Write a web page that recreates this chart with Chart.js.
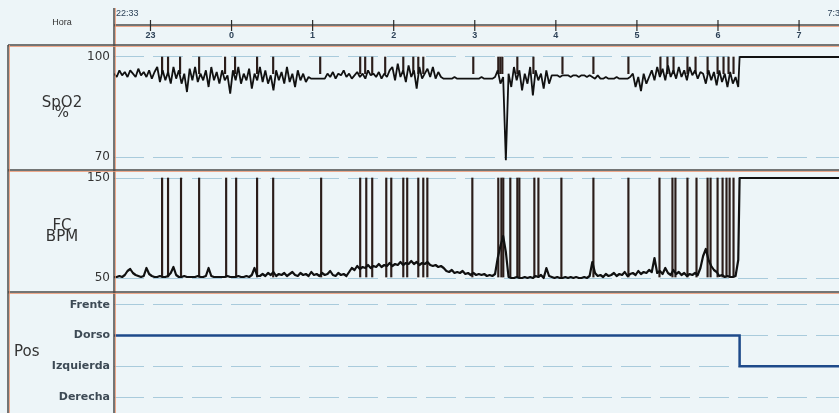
<!DOCTYPE html>
<html>
<head>
<meta charset="utf-8">
<script src="https://cdn.jsdelivr.net/npm/chart.js@4.4.1/dist/chart.umd.min.js"></script>
<style>
html, body { margin: 0; padding: 0; background: #edf5f8; overflow: hidden; }
#wrap { width: 846px; height: 413px; }
</style>
</head>
<body>
<div id="wrap"><canvas id="chart" width="846" height="413"></canvas></div>
<script>
// time axis, in minutes after 22:33
const startLabel = '22:33';
const endLabel = '7:34';
const endMinute = 541;
const hourTicks = [27, 87, 147, 207, 267, 327, 387, 447, 507];
const hourLabels = ['23', '0', '1', '2', '3', '4', '5', '6', '7'];

// one sample every 2 minutes, from 22:33 until the sensor comes off
const sampleStep = 2;
const spo2Values = [
    95, 94, 96, 94.5, 95.5, 94, 96, 95, 94, 96.5, 94.5, 95.5, 94, 96, 93.5, 95.5,
    97, 92.5, 96, 93, 95.5, 92, 97, 93.5, 96, 92, 95, 89.5, 96.5, 93, 97, 92.5, 95, 93, 96, 91,
    97, 93, 95.5, 92, 96, 93, 94.5, 89, 96, 93, 97, 92, 95, 93, 96.5, 90.5, 95, 93, 97, 92.5,
    96, 92, 94.5, 90, 96, 93, 95.5, 92, 97, 92.5, 95, 91, 96, 93, 95, 92.5, 94,
    93.5, 93.5, 93.5, 93.5, 93.5, 93.5,
    95, 94, 95.5, 93.5, 95, 94.5, 96, 94, 95, 93.5, 94.5, 95.5, 94, 95, 93.5, 96, 94.5, 95, 94, 95.5, 93.5, 95, 94, 96,
    97, 93, 98, 94, 96, 92.5, 97.5, 94, 96, 90.5, 97, 93.5, 95, 96.5, 94, 97, 93.5, 95.5, 94, 93.5,
    93.5, 93.5, 93.5, 94, 93.5, 93.5, 93.5, 93.5, 93.5, 93.5, 93.5, 93.5, 93.5, 94, 93.5, 93.5, 93.5, 93.5, 94,
    96, 92, 94, 69,
    95, 91, 97, 93, 96, 90, 95, 92, 97, 88.5, 96, 93, 95, 90.5, 96, 92, 94.5,
    94.5, 94.5, 94, 94.5, 94.5, 94.5, 94, 94.5, 94.5, 94, 94.5, 94.5, 94, 94.5,
    94, 93.5, 94.5, 93.5, 93.5, 94, 93.5, 93.5, 93.5, 94, 93.5, 93.5, 93.5, 93.5, 94,
    95, 91, 94, 89.8, 95, 92, 94,
    96, 93, 97, 94, 96.5, 93, 97.5, 94, 96, 93.5, 97, 94, 96, 93, 97, 94.5, 96, 93.5, 95.5,
    95, 92, 96, 93, 95.5, 91.5, 96, 92.5, 95, 91, 95.5, 92, 94, 91
];
const fcValues = [
    51, 51, 52, 51, 53, 57, 59, 55, 53, 52, 51, 52, 60, 54, 52, 51, 51, 52, 51, 51,
    52, 55, 61, 53, 51, 51, 52, 51, 51, 51, 51, 52, 51, 51, 52, 60, 52, 51, 51, 51,
    51, 51, 52, 51, 51, 51, 52, 51, 51, 52, 51, 53, 60, 52, 52,
    54, 52, 55, 53, 56, 52, 54, 53, 55, 52, 54, 56, 53, 52, 55, 53, 54, 52, 56, 53,
    54, 52, 55, 53, 54, 57, 53, 52, 55, 53, 54, 52, 56,
    60, 58, 62, 59, 61, 60, 63, 60, 62, 61, 64, 61, 63, 62, 65, 62, 64, 63, 66, 63,
    65, 64, 67, 64, 66, 63, 65, 64, 66, 63,
    62, 63, 61, 62, 60,
    57, 56, 58, 55, 56, 55, 57, 54, 55, 53, 55, 53, 54, 53, 54, 52, 53, 52, 54,
    70, 82, 92, 76,
    51, 50, 50, 51, 50, 50, 51, 50, 51, 50, 52, 51, 53, 50, 60, 52, 51, 50, 51, 50,
    50, 51, 50, 51, 50, 51, 50, 50, 51, 50, 52,
    66, 55, 52, 53, 51, 54, 52, 53, 55, 52, 54, 53, 56, 52, 54, 55, 53, 57, 54, 56,
    55, 58, 56, 70, 55, 57, 54, 60, 55, 53, 58, 54, 56, 53, 55, 52, 54, 53, 55, 53,
    60, 72, 79, 68, 62, 58, 56,
    52, 53, 51, 52, 51, 51, 52,
    68
];

// sensor off: both traces sit at the top of their scale
const sensorOff = 463;
const spo2Off = 100;
const fcOff = 150;

// movement artefacts (minutes), drawn as thin vertical spikes
const spo2Artifacts = [35.6, 40, 48.9, 63, 82.2, 89.6, 105.9, 117.8, 152.6, 182.2, 185.9, 191.1,
    200.7, 214.1, 221.5, 225.2, 228.9, 265.9, 284.4, 285.9, 287.4, 298.5, 310.4, 331.9, 354.8,
    380.7, 404.4, 409.6, 414.1, 424.4, 430.4, 439.3, 446.7, 451.1, 454.8, 458.5];
const fcArtifacts = [35.6, 40, 49.6, 63, 83, 90.4, 105.9, 117.8, 153.3, 182.2, 186.7, 191.1,
    201.5, 205.2, 214.1, 217, 225.2, 228.9, 231.9, 265.2, 284.4, 286.7, 288.1, 293.3, 298.5, 300,
    311.1, 314.1, 331.1, 354.8, 380.7, 403.7, 413.3, 415.5, 424.4, 431.1, 439.3, 441.5, 446.7,
    450.4, 453.3, 455.6, 458.5];
const spo2SpikeRange = [95, 100];
const fcSpikeRange = [51, 150];

// body position
const posLabels = ['Derecha', 'Izquierda', 'Dorso', 'Frente'];
const posTimes = [0, 463, 541];
const posValues = ['Dorso', 'Izquierda', 'Izquierda'];

const spo2Ticks = [70, 100];
const fcTicks = [50, 150];
const posTicks = [0, 1, 2, 3];

const panelTitles = [['SpO2', '%'], ['FC', 'BPM'], ['Pos']];

const FONT = '"Liberation Sans", Arial, sans-serif';
const WIDE = '"DejaVu Sans", sans-serif';

function series(values, offValue) {
    const pts = values.map((v, i) => ({ x: i * sampleStep, y: v }));
    pts.push({ x: sensorOff, y: offValue }, { x: endMinute, y: offValue });
    return pts;
}

function spikes(times, range) {
    return times.map(t => ({ x: t, y: range }));
}

function panelAxis(weight, min, max, tickValues, labelFn, font, color) {
    return {
        type: 'linear',
        position: 'left',
        stack: 'panels',
        stackWeight: weight,
        min: min,
        max: max,
        afterBuildTicks: s => { s.ticks = tickValues.map(v => ({ value: v })); },
        afterFit: s => {
            s.width = 114;
            s.paddingTop = 0;
            s.paddingBottom = 0;
        },
        grid: { color: '#a9cbdc', lineWidth: 1, drawTicks: false },
        border: { display: false, dash: [30, 9] },
        ticks: { padding: 4, color: color, font: font, callback: labelFn }
    };
}

const framePlugin = {
    id: 'panelFrame',
    afterDraw(chart) {
        const { ctx, chartArea, scales } = chart;
        const x = scales.x;
        const right = chart.width;
        const frameLeft = 8;
        const panels = [scales.ySpo2, scales.yFc, scales.yPos];

        function rule(x1, y1, x2, y2) {
            const dx = x1 === x2 ? 1.5 : 0;
            const dy = y1 === y2 ? 1.5 : 0;
            ctx.lineWidth = 1;
            ctx.strokeStyle = 'rgba(236,150,112,0.8)';
            ctx.beginPath();
            ctx.moveTo(x1 + dx, y1 + dy);
            ctx.lineTo(x2 + dx, y2 + dy);
            ctx.stroke();
            ctx.lineWidth = 1.5;
            ctx.strokeStyle = '#4a4a4a';
            ctx.beginPath();
            ctx.moveTo(x1, y1);
            ctx.lineTo(x2, y2);
            ctx.stroke();
        }

        ctx.save();
        rule(chartArea.left, 25, right, 25);
        rule(chartArea.left, 8, chartArea.left, chart.height);
        panels.forEach(p => rule(frameLeft, p.top, right, p.top));
        rule(frameLeft, chartArea.top, frameLeft, chart.height);

        // time header
        ctx.font = '9px ' + FONT;
        ctx.textBaseline = 'middle';
        ctx.fillStyle = '#333';
        ctx.textAlign = 'center';
        ctx.fillText('Hora', 62, 23);
        ctx.fillStyle = '#2d4258';
        ctx.textAlign = 'left';
        ctx.fillText(startLabel, chartArea.left + 2, 14);
        ctx.textAlign = 'right';
        ctx.fillText(endLabel, chartArea.right, 14);
        ctx.textAlign = 'center';
        ctx.font = 'bold 9px ' + FONT;
        hourTicks.forEach((v, i) => {
            const px = x.getPixelForValue(v);
            ctx.strokeStyle = '#2a2a2a';
            ctx.lineWidth = 1.2;
            ctx.beginPath();
            ctx.moveTo(px, 20);
            ctx.lineTo(px, 31);
            ctx.stroke();
            ctx.fillText(hourLabels[i], px, 35.5);
        });

        // panel titles
        ctx.fillStyle = '#333';
        ctx.font = '15px ' + WIDE;
        const sp = scales.ySpo2, fc = scales.yFc, pos = scales.yPos;
        const spMid = (sp.top + sp.bottom) / 2, fcMid = (fc.top + fc.bottom) / 2;
        ctx.fillText(panelTitles[0][0], 62, spMid - 4.5);
        ctx.fillText(panelTitles[0][1], 62, spMid + 5.5);
        ctx.fillText(panelTitles[1][0], 62, fcMid - 5);
        ctx.fillText(panelTitles[1][1], 62, fcMid + 6);
        ctx.textAlign = 'left';
        ctx.fillText(panelTitles[2][0], 14, (pos.top + pos.bottom) / 2);
        ctx.restore();
    }
};

const ctx = document.getElementById('chart').getContext('2d');
const chart = new Chart(ctx, {
    type: 'line',
    data: {
        datasets: [
            {
                label: 'SpO2',
                data: series(spo2Values, spo2Off),
                yAxisID: 'ySpo2',
                borderColor: '#111',
                borderWidth: 1.8,
                borderJoinStyle: 'bevel',
                pointRadius: 0,
                tension: 0
            },
            {
                label: 'FC',
                data: series(fcValues, fcOff),
                yAxisID: 'yFc',
                borderColor: '#111',
                borderWidth: 2.2,
                borderJoinStyle: 'round',
                pointRadius: 0,
                tension: 0
            },
            {
                label: 'Pos',
                data: posTimes.map((t, i) => ({ x: t, y: posLabels.indexOf(posValues[i]) })),
                yAxisID: 'yPos',
                borderColor: '#1e4a8a',
                borderWidth: 2.5,
                pointRadius: 0,
                stepped: true
            },
            {
                type: 'bar',
                label: 'SpO2 artefactos',
                data: spikes(spo2Artifacts, spo2SpikeRange),
                yAxisID: 'ySpo2',
                backgroundColor: '#2b1d1a',
                barThickness: 1.5,
                grouped: false
            },
            {
                type: 'bar',
                label: 'FC artefactos',
                data: spikes(fcArtifacts, fcSpikeRange),
                yAxisID: 'yFc',
                backgroundColor: '#2b1d1a',
                barThickness: 1.5,
                grouped: false
            }
        ]
    },
    options: {
        responsive: false,
        animation: false,
        layout: { padding: { top: 45, left: 0, right: 1, bottom: 0 } },
        plugins: { legend: { display: false }, tooltip: { enabled: false } },
        scales: {
            x: { type: 'linear', display: false, min: 0, max: endMinute, offset: false, grid: { offset: false } },
            yPos: panelAxis(121, -0.52, 3.42, posTicks, v => posLabels[v],
                { size: 11, weight: 'bold', family: WIDE }, '#3d4a55'),
            yFc: panelAxis(122, 36, 158, fcTicks, v => v, { size: 12, family: WIDE }, '#333'),
            ySpo2: panelAxis(125, 66.1, 103.6, spo2Ticks, v => v, { size: 12, family: WIDE }, '#333')
        }
    },
    plugins: [framePlugin]
});
</script>
</body>
</html>
